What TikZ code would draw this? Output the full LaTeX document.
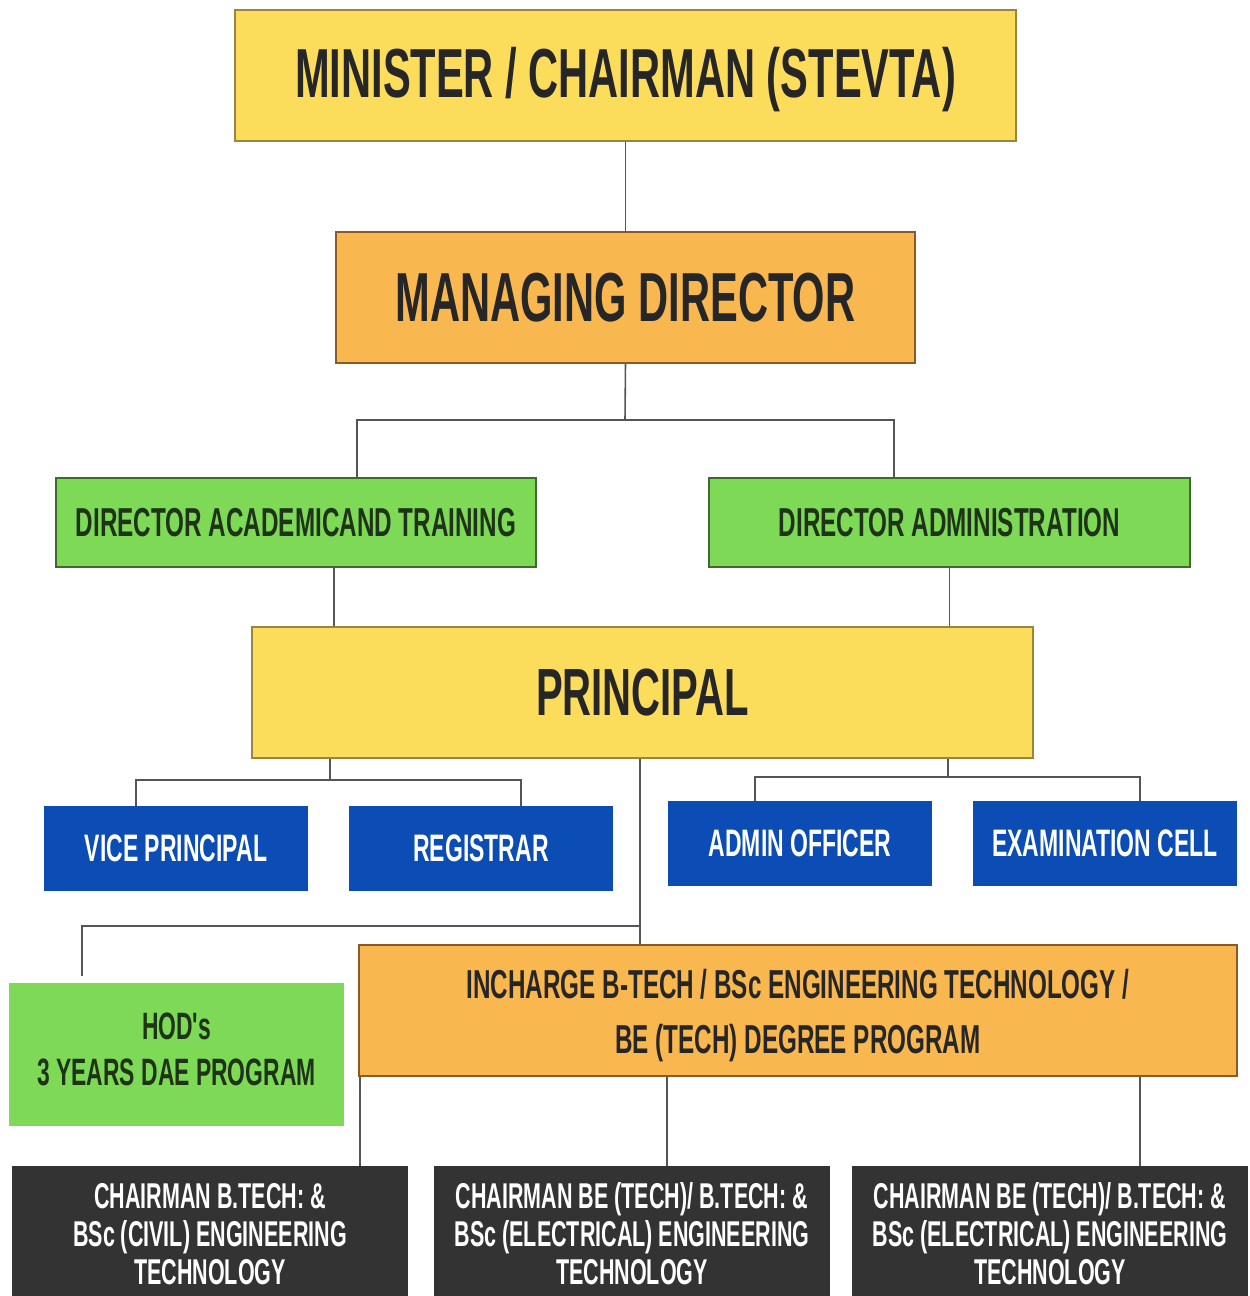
\documentclass[tikz,border=0pt]{standalone}
\usepackage{fontspec}
\newfontfamily\cf{Liberation Sans}[FakeStretch=0.6]
\definecolor{cyel}{HTML}{FCDC5B}
\definecolor{cyelb}{HTML}{9A8440}
\definecolor{corg}{HTML}{F9B750}
\definecolor{corgb}{HTML}{8A5A2A}
\definecolor{cgrn}{HTML}{7ED957}
\definecolor{cgrnb}{HTML}{3E6A30}
\definecolor{cblu}{HTML}{0B4DB4}
\definecolor{cdrk}{HTML}{333333}
\definecolor{ctxt}{HTML}{262626}
\definecolor{cgtxt}{HTML}{1E3318}
\definecolor{cln}{HTML}{555555}
\tikzset{
  bx/.style={rectangle, inner sep=0pt, align=center, font=\cf\bfseries},
  yel/.style={bx, fill=cyel, draw=cyelb, line width=0.8pt, text=ctxt},
  org/.style={bx, fill=corg, draw=corgb, line width=0.8pt, text=ctxt},
  grn/.style={bx, fill=cgrn, draw=cgrnb, line width=0.8pt, text=cgtxt},
  grnp/.style={bx, fill=cgrn, text=cgtxt},
  blu/.style={bx, fill=cblu, text=white},
  drk/.style={bx, fill=cdrk, text=white},
  ln/.style={draw=cln, line width=0.9pt},
}
\begin{document}
\begin{tikzpicture}[x=0.02cm, y=-0.02cm]
\clip (0,0) rectangle (1249,1296);
\fill[white] (0,0) rectangle (1249,1296);
% boxes
\node[yel, minimum width=15.62cm, minimum height=2.62cm,
  label={[align=center, inner sep=0pt, text=ctxt, yshift=-2.2pt, font=\cf\bfseries\fontsize{39.5}{40}\selectfont]center:MINISTER / CHAIRMAN (STEVTA)}] (min) at (625.5,75.5) {};
\node[org, minimum width=11.58cm, minimum height=2.62cm, font=\cf\bfseries\fontsize{39.5}{40}\selectfont] (md) at (625.5,297.5) {MANAGING DIRECTOR};
\node[grn, minimum width=9.6cm, minimum height=1.78cm, font=\cf\bfseries\fontsize{23}{24}\selectfont] (dat) at (296,522.5) {DIRECTOR ACADEMICAND TRAINING};
\node[grn, minimum width=9.62cm, minimum height=1.78cm, font=\cf\bfseries\fontsize{23}{24}\selectfont] (dad) at (949.5,522.5) {DIRECTOR ADMINISTRATION};
\node[yel, minimum width=15.62cm, minimum height=2.62cm, font=\cf\bfseries\fontsize{38}{40}\selectfont] (pr) at (642.5,692.5) {PRINCIPAL};
\node[blu, minimum width=5.28cm, minimum height=1.7cm, font=\cf\bfseries\fontsize{21.8}{23}\selectfont] (vp) at (176,848.5) {VICE PRINCIPAL};
\node[blu, minimum width=5.28cm, minimum height=1.7cm, font=\cf\bfseries\fontsize{21.8}{23}\selectfont] (reg) at (481,848.5) {REGISTRAR};
\node[blu, minimum width=5.28cm, minimum height=1.7cm, font=\cf\bfseries\fontsize{21.8}{23}\selectfont] (ao) at (800,843.5) {ADMIN OFFICER};
\node[blu, minimum width=5.28cm, minimum height=1.7cm, font=\cf\bfseries\fontsize{21.8}{23}\selectfont] (ex) at (1105,843.5) {EXAMINATION CELL};
\node[grnp, minimum width=6.7cm, minimum height=2.86cm,
  label={[align=center, inner sep=0pt, text=cgtxt, yshift=2.8pt, font=\cf\bfseries\fontsize{21.7}{26}\selectfont]center:HOD's\\3 YEARS DAE PROGRAM}] (hod) at (176.5,1054.5) {};
\node[org, minimum width=17.56cm, minimum height=2.62cm,
  label={[align=center, inner sep=0pt, text=ctxt, yshift=-2.8pt, font=\cf\bfseries\fontsize{23}{31}\selectfont]center:INCHARGE B-TECH / BSc ENGINEERING TECHNOLOGY /\\BE (TECH) DEGREE PROGRAM}] (inc) at (798,1010.5) {};
\node[drk, minimum width=7.92cm, minimum height=2.72cm, font=\cf\bfseries\fontsize{20.4}{21.6}\selectfont] (c1) at (210,1234) {CHAIRMAN B.TECH: \&\\BSc (CIVIL) ENGINEERING\\TECHNOLOGY};
\node[drk, minimum width=7.92cm, minimum height=2.72cm, font=\cf\bfseries\fontsize{20.4}{21.6}\selectfont] (c2) at (632,1234) {CHAIRMAN BE (TECH)/ B.TECH: \&\\BSc (ELECTRICAL) ENGINEERING\\TECHNOLOGY};
\node[drk, minimum width=7.92cm, minimum height=2.72cm, font=\cf\bfseries\fontsize{20.4}{21.6}\selectfont] (c3) at (1050,1234) {CHAIRMAN BE (TECH)/ B.TECH: \&\\BSc (ELECTRICAL) ENGINEERING\\TECHNOLOGY};
% junction coordinates
\coordinate (j1) at (625,420);
\coordinate (j2) at (330,780);
\coordinate (j3) at (948,777);
\coordinate (j4) at (640,926);
\coordinate (hodtop) at (82,976);
% connectors
\draw[ln] (min.south) -- (md.north);
\draw[ln] (md.south) -- (j1);
\draw[ln] (dat.north -| 357,0) -- (357,420) -- (894,420) -- (dad.north -| 894,0);
\draw[ln] (dat.south -| 334,0) -- (pr.north -| 334,0);
\draw[ln] (dad.south) -- (pr.north -| dad.south);
\draw[ln] (pr.south -| j2) -- (j2);
\draw[ln] (vp.north -| 136,0) -- (136,780) -- (521,780) -- (reg.north -| 521,0);
\draw[ln] (pr.south -| j3) -- (j3);
\draw[ln] (ao.north -| 755,0) -- (755,777) -- (1140,777) -- (ex.north -| 1140,0);
\draw[ln] (pr.south -| j4) -- (inc.north -| j4);
\draw[ln] (j4) -- (82,926) -- (hodtop);
\draw[ln] (inc.south -| 360,0) -- (c1.north -| 360,0);
\draw[ln] (inc.south -| 667,0) -- (c2.north -| 667,0);
\draw[ln] (inc.south -| 1140,0) -- (c3.north -| 1140,0);
\end{tikzpicture}
\end{document}
